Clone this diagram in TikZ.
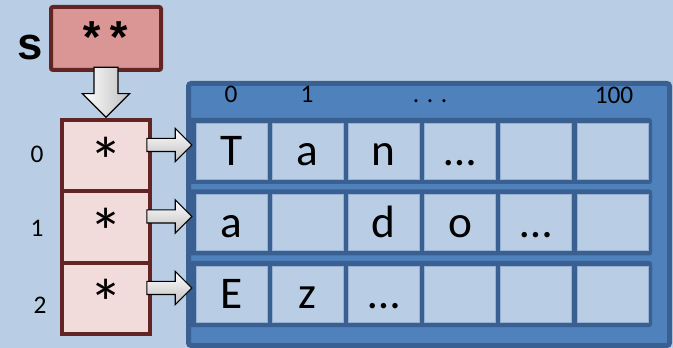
\documentclass[tikz,border=0pt]{standalone}
\usepackage{fontspec}
\setmainfont{Carlito}
\newfontfamily\codefont{Liberation Mono}
\usetikzlibrary{shapes.arrows}

\definecolor{bgblue}{HTML}{B9CDE5}
\definecolor{midblue}{HTML}{4F81BD}
\definecolor{darkblue}{HTML}{3A6091}
\definecolor{edgeblue}{HTML}{95B0D4}
\definecolor{ptrred}{HTML}{632523}
\definecolor{ptrfill}{HTML}{F2DCDB}
\definecolor{dptrfill}{HTML}{D99694}

\tikzset{
    sa frame/.style={draw=darkblue, fill=midblue, line width=3.75pt,
                     rounded corners=2pt, minimum width=360.75pt,
                     minimum height=196.5pt, inner sep=0pt},
    sa row/.style={fill=darkblue, rounded corners=2pt, inner sep=0pt,
                   minimum width=348pt, minimum height=49.5pt},
    sa cell/.style={draw=edgeblue, fill=bgblue, line width=0.6pt,
                    minimum width=53.25pt, minimum height=42pt, inner sep=0pt,
                    text height=22pt, text depth=0pt,
                    font=\fontsize{34}{40}\selectfont},
    sa ptr/.style={draw=ptrred, fill=ptrfill, line width=3pt,
                   minimum width=66pt, minimum height=53.5pt, inner sep=0pt,
                   text height=43pt, text depth=0pt,
                   font=\fontsize{50}{56}\selectfont},
    sa dptr/.style={draw=ptrred, fill=dptrfill, line width=3pt,
                    rounded corners=1.5pt, minimum width=82.5pt,
                    minimum height=47.25pt, inner sep=0pt,
                    font=\codefont\bfseries\fontsize{34}{40}\selectfont},
    sa index/.style={anchor=base, inner sep=0pt,
                     font=\fontsize{19}{22}\selectfont},
    sa name/.style={anchor=base, inner sep=0pt,
                    font=\codefont\bfseries\fontsize{34}{40}\selectfont},
    sa arrow/.style={single arrow, draw=black, line width=0.9pt,
                     top color=white, bottom color=black!25,
                     inner xsep=0pt, inner ysep=4.5pt,
                     minimum height=33.75pt, minimum width=24pt,
                     single arrow head extend=7.5pt, anchor=tip},
    sa down/.style={single arrow, draw=black, line width=0.9pt,
                    left color=white, right color=black!25,
                    shape border rotate=270,
                    inner sep=8.6pt,
                    minimum height=37.5pt, minimum width=34.5pt,
                    single arrow head extend=8.6pt, anchor=tip},
}

\begin{document}
\begin{tikzpicture}[x=0.75pt, y=-0.75pt]
    \def\s{76.2}
    \def\r{71.5}
    \def\q{71.3}
    \useasboundingbox[fill=bgblue] (0,0) rectangle (673,348);

    % character buffers
    \node[sa frame] (buf) at (429, 214.5) {};
    \node[sa index] (top0) at (231, 103) {0};
    \node[sa index] (top1) at (307, 103) {1};
    \node[sa index] (topdots) at (430, 103) {. . .};
    \node[sa index] (top100) at (614, 104) {100};

    \node[sa row] (r0) at (420, 151) {};
    \node[sa row] (r1) at (420, 151+\r) {};
    \node[sa row] (r2) at (420, 151+2*\r) {};

    % Row 0
    \node[sa cell] (c00) at (231.5, 151) {T};
    \node[sa cell] (c10) at (231.5+\s, 151) {a};
    \node[sa cell] (c20) at (231.5+2*\s, 151) {n};
    \node[sa cell] (c30) at (231.5+3*\s, 151) {…};
    \node[sa cell] (c40) at (231.5+4*\s, 151) {};
    \node[sa cell] (c50) at (231.5+5*\s, 151) {};
    % Row 1
    \node[sa cell] (c01) at (231.5, 151+\r) {a};
    \node[sa cell] (c11) at (231.5+\s, 151+\r) {};
    \node[sa cell] (c21) at (231.5+2*\s, 151+\r) {d};
    \node[sa cell] (c31) at (231.5+3*\s, 151+\r) {o};
    \node[sa cell] (c41) at (231.5+4*\s, 151+\r) {…};
    \node[sa cell] (c51) at (231.5+5*\s, 151+\r) {};
    % Row 2
    \node[sa cell] (c02) at (231.5, 151+2*\r) {E};
    \node[sa cell] (c12) at (231.5+\s, 151+2*\r) {z};
    \node[sa cell] (c22) at (231.5+2*\s, 151+2*\r) {…};
    \node[sa cell] (c32) at (231.5+3*\s, 151+2*\r) {};
    \node[sa cell] (c42) at (231.5+4*\s, 151+2*\r) {};
    \node[sa cell] (c52) at (231.5+5*\s, 151+2*\r) {};

    % pointer array
    \node[sa ptr] (p0) at (106, 155.7) {*};
    \node[sa ptr] (p1) at (106, 155.7+\q) {*};
    \node[sa ptr] (p2) at (106, 155.7+2*\q) {*};
    \node[sa index] (idx0) at (37, 163) {0};
    \node[sa index] (idx1) at (37, 236.7) {1};
    \node[sa index] (idx2) at (40, 313) {2};

    % double pointer
    \node[sa dptr] (sptr) at (106, 38.5) {**};
    \node[sa name] (sname) at (30, 60) {s};

    % block arrows
    \node[sa down] (adown) at (p0.north) {};
    \node[sa arrow] (a0) at ([xshift=3.75pt, yshift=4.5pt]r0.west) {};
    \node[sa arrow] (a1) at ([xshift=3.75pt, yshift=4.5pt]r1.west) {};
    \node[sa arrow] (a2) at ([xshift=3.75pt, yshift=4.5pt]r2.west) {};
\end{tikzpicture}
\end{document}
